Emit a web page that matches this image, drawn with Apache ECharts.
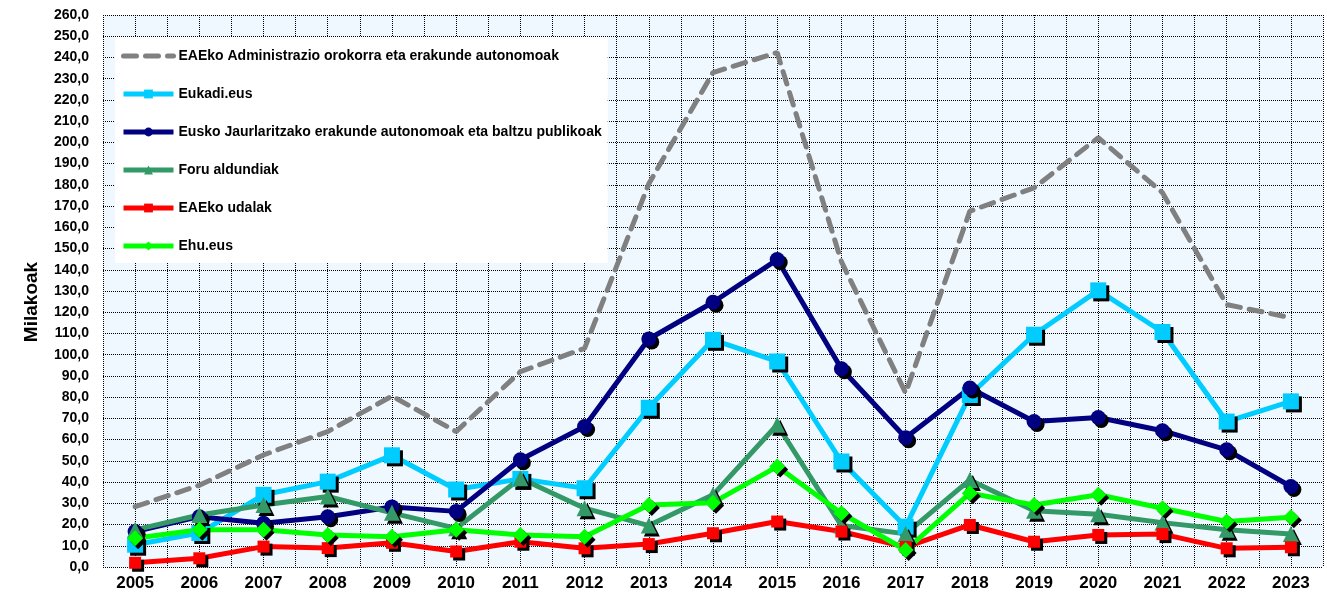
<!DOCTYPE html>
<html>
<head>
<meta charset="utf-8">
<script src="https://cdn.jsdelivr.net/npm/echarts@6/dist/echarts.min.js"></script>
<style>
  html, body { margin: 0; padding: 0; background: #fff; }
  #chart { width: 1327px; height: 596px; }
</style>
</head>
<body>
<div id="chart"></div>
<script>
var years = [2005, 2006, 2007, 2008, 2009, 2010, 2011, 2012, 2013, 2014, 2015, 2016, 2017, 2018, 2019, 2020, 2021, 2022, 2023];

var seriesNames = [
  'EAEko Administrazio orokorra eta erakunde autonomoak',
  'Eukadi.eus',
  'Eusko Jaurlaritzako erakunde autonomoak eta baltzu publikoak',
  'Foru aldundiak',
  'EAEko udalak',
  'Ehu.eus'
];

// Milakoak
var eaeAdmin = [28.4, 38.5, 52.8, 63.8, 80.5, 63.8, 92.0, 103.0, 180.5, 232.9, 242.3, 143.8, 82.0, 167.6, 178.6, 202.2, 176.3, 123.6, 117.4];
var eukadi   = [10.5, 16.0, 34.0, 40.2, 52.6, 36.5, 41.5, 37.1, 75.0, 107.0, 96.8, 49.7, 19.0, 81.0, 109.4, 130.3, 110.7, 68.5, 78.0];
var euskoJ   = [16.7, 23.7, 20.6, 23.7, 28.3, 26.2, 50.5, 66.2, 107.4, 124.7, 144.8, 93.4, 60.9, 84.3, 68.5, 70.4, 64.2, 55.2, 37.9];
var foru     = [17.5, 24.5, 29.2, 33.2, 25.5, 18.2, 41.8, 27.7, 19.5, 34.0, 67.0, 19.5, 15.6, 41.0, 26.5, 24.8, 20.9, 17.5, 15.6];
var udalak   = [2.0, 4.1, 9.6, 8.9, 11.4, 7.3, 11.9, 8.8, 10.8, 15.9, 21.4, 16.7, 9.4, 19.8, 11.9, 15.1, 15.5, 8.8, 9.3];
var ehu      = [13.5, 17.5, 17.5, 15.1, 14.3, 17.5, 15.1, 14.3, 29.2, 30.3, 47.3, 25.3, 8.0, 34.7, 29.2, 34.0, 27.7, 21.4, 23.4];

function pairs(values) {
  return years.map(function (y, i) { return [y, values[i]]; });
}

var chart = echarts.init(document.getElementById('chart'));

var markerShadow = {
  shadowColor: '#000',
  shadowBlur: 0,
  shadowOffsetX: 3,
  shadowOffsetY: 3
};

function lineSeries(name, values, color, symbol, size) {
  return {
    name: name,
    type: 'line',
    data: pairs(values),
    symbol: symbol,
    symbolSize: size,
    showSymbol: true,
    animation: false,
    lineStyle: { color: color, width: 5 },
    itemStyle: Object.assign({ color: color }, markerShadow)
  };
}

var font = 'Arial, "Liberation Sans", sans-serif';

var option = {
  backgroundColor: '#fff',
  animation: false,
  textStyle: { fontFamily: font },
  grid: {
    left: 103,
    right: 4,
    top: 15,
    bottom: 29,
    show: true,
    backgroundColor: '#F0F8FF',
    borderWidth: 0
  },
  legend: {
    orient: 'vertical',
    left: 115,
    top: 37,
    padding: [12, 6, 10, 6],
    itemGap: 24,
    itemWidth: 50,
    itemHeight: 11,
    backgroundColor: '#fff',
    lineStyle: { width: 5 },
    textStyle: { fontSize: 14, fontWeight: 'bold', color: '#000', fontFamily: font },
    data: [
      { name: seriesNames[0], itemStyle: { opacity: 0 } },
      seriesNames[1], seriesNames[2], seriesNames[3], seriesNames[4], seriesNames[5]
    ]
  },
  xAxis: {
    type: 'value',
    min: 2004.5,
    max: 2023.5,
    interval: 0.5,
    axisLine: { show: false },
    axisTick: { show: false },
    splitLine: { show: true, lineStyle: { color: '#000', type: 'dotted', width: 1 } },
    axisLabel: {
      margin: 8,
      fontSize: 17,
      fontWeight: 'bold',
      color: '#000',
      showMinLabel: true,
      showMaxLabel: true,
      formatter: function (v) {
        return Number.isInteger(v) ? String(v) : '';
      }
    }
  },
  yAxis: {
    type: 'value',
    min: 0,
    max: 260,
    interval: 10,
    name: 'Milakoak',
    nameLocation: 'middle',
    nameGap: 62,
    nameTextStyle: { fontSize: 19, fontWeight: 'bold', color: '#000', padding: [0, 22, 0, 0] },
    axisLine: { show: false },
    axisTick: { show: false },
    splitLine: { show: true, lineStyle: { color: '#000', type: 'dotted', width: 1 } },
    axisLabel: {
      margin: 14,
      fontSize: 14,
      fontWeight: 'bold',
      color: '#000',
      formatter: function (v) { return v.toFixed(1).replace('.', ','); }
    }
  },
  series: [
    {
      name: seriesNames[0],
      type: 'line',
      data: pairs(eaeAdmin),
      symbol: 'none',
      animation: false,
      lineStyle: { color: '#808080', width: 5, type: [13, 9], cap: 'round' },
      itemStyle: { color: '#808080' }
    },
    lineSeries(seriesNames[1], eukadi, '#00CCFF', 'rect', 16),
    lineSeries(seriesNames[2], euskoJ, '#000080', 'circle', 15),
    lineSeries(seriesNames[3], foru, '#339966', 'triangle', 16),
    lineSeries(seriesNames[4], udalak, '#FF0000', 'rect', 12),
    lineSeries(seriesNames[5], ehu, '#00FF00', 'diamond', 16)
  ]
};

chart.setOption(option);
</script>
</body>
</html>
